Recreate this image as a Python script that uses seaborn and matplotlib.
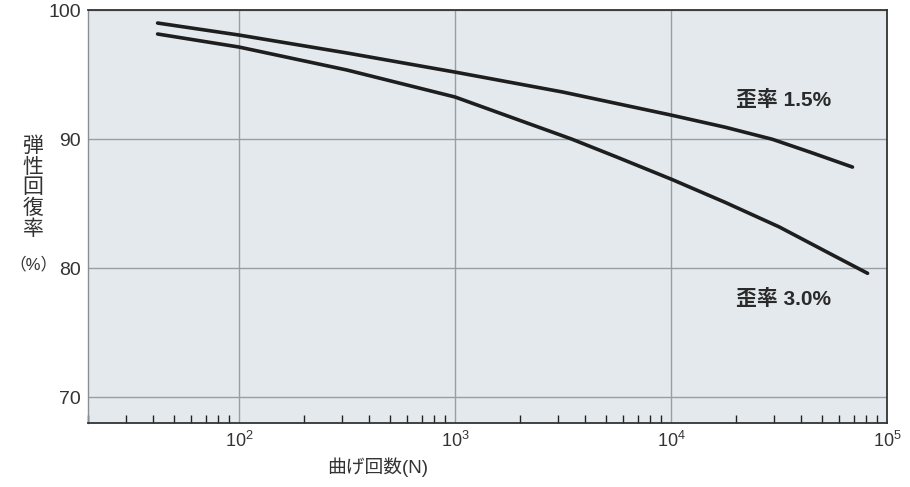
import numpy as np
import pandas as pd
import matplotlib
matplotlib.use("Agg")
import matplotlib.pyplot as plt
import matplotlib.ticker as mticker
import seaborn as sns

# データ
n_15 = [42, 100, 316, 1000, 3162, 10000, 17800, 29500, 44700, 69200]
r_15 = [98.99, 98.06, 96.67, 95.19, 93.64, 91.86, 90.92, 89.98, 88.95, 87.83]

n_30 = [42, 100, 316, 1000, 1778, 3467, 5623, 10000, 17783, 31623, 56234, 81283]
r_30 = [98.14, 97.13, 95.35, 93.26, 91.75, 90.0, 88.6, 86.9, 85.1, 83.2, 81.0, 79.6]

labels = ["歪率 1.5%", "歪率 3.0%"]
x_ticks = [100, 1000, 10000, 100000]
x_ticklabels = ["$10^2$", "$10^3$", "$10^4$", "$10^5$"]
y_ticks = [70, 80, 90, 100]

df = pd.DataFrame({
    "N": n_15 + n_30,
    "rate": r_15 + r_30,
    "strain": [labels[0]] * len(n_15) + [labels[1]] * len(n_30),
})

sns.set_theme(style="white")
plt.rcParams["font.family"] = ["Liberation Sans", "Noto Sans CJK JP"]
plt.rcParams["mathtext.fontset"] = "custom"
plt.rcParams["mathtext.rm"] = "Liberation Sans"
plt.rcParams["mathtext.it"] = "Liberation Sans"

fig = plt.figure(figsize=(9.1, 4.87), dpi=100)
ax = fig.add_axes([88 / 910, 1 - 423 / 487, 799 / 910, 413 / 487])
ax.set_facecolor("#e3e9ed")

sns.lineplot(data=df, x="N", y="rate", units="strain", estimator=None,
             color="#1e1e1e", linewidth=2.6, ax=ax, legend=False)

ax.set_xscale("log")
ax.set_xlim(20, 100000)
ax.set_ylim(68, 100)

ax.set_xticks(x_ticks)
ax.set_xticklabels(x_ticklabels)
ax.xaxis.set_minor_locator(mticker.LogLocator(base=10, subs=np.arange(2, 10)))
ax.xaxis.set_minor_formatter(mticker.NullFormatter())
ax.set_yticks(y_ticks)

ax.grid(True, which="major", color="#9a9ea2", linewidth=1.0)
ax.tick_params(axis="x", which="major", length=0, pad=6, labelsize=13, labelcolor="#333333")
ax.tick_params(axis="x", which="minor", direction="in", length=6, width=1.0,
               color="#222222", bottom=True)
ax.tick_params(axis="y", length=0, pad=5, labelsize=14, labelcolor="#333333")

for side in ["top", "right", "bottom"]:
    ax.spines[side].set_color("#333333")
    ax.spines[side].set_linewidth(1.3)
ax.spines["left"].set_color("#8a8e92")
ax.spines["left"].set_linewidth(1.0)

ax.set_xlabel("")
ax.set_ylabel("")

# 曲線ラベル
ax.text(20000, 93.0, labels[0], fontsize=15, fontweight="bold", color="#2a2a2a",
        va="center", ha="left")
ax.text(20000, 77.6, labels[1], fontsize=15, fontweight="bold", color="#2a2a2a",
        va="center", ha="left")

# 軸ラベル
fig.text(378 / 910, 1 - 467 / 487, "曲げ回数(N)", fontsize=13.5, color="#333333",
         ha="center", va="center")
fig.text(33 / 910, 1 - 188 / 487, "弾\n性\n回\n復\n率", fontsize=15, color="#333333",
         ha="center", va="center", linespacing=1.1)
fig.text(33 / 910, 1 - 264 / 487, "（%）", fontsize=12, color="#333333",
         ha="center", va="center")

fig.savefig("out.png", dpi=100)
